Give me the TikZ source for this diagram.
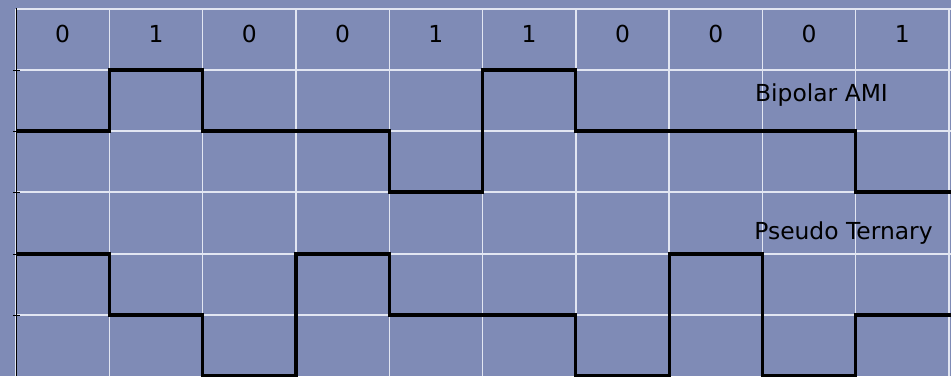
\documentclass[tikz,border=0pt]{standalone}
\usepackage{fontspec}
\setmainfont{DejaVu Sans}
\usepackage{tikz}
\definecolor{plotbg}{HTML}{7F8BB6}
\definecolor{gridwhite}{HTML}{E2E6F2}
\tikzset{
  gridln/.style={gridwhite,line width=1.4pt},
  axisln/.style={black,line width=0.8pt},
  signal/.style={black,line width=3.2pt,line join=miter},
  bitlabel/.style={anchor=base,inner sep=0pt,font=\fontsize{23.4}{28}\selectfont},
  codename/.style={anchor=base,inner sep=0pt,font=\fontsize{23.4}{28}\selectfont},
}

\begin{document}
\begin{tikzpicture}[x=1pt,y=-1pt]
    \fill[plotbg] (0,0) rectangle (951,376);
    \useasboundingbox (0,0) rectangle (951,376);
    % grid
    \foreach \i in {0,...,10} {\draw[gridln] ({16+93.3*\i},9) -- ({16+93.3*\i},376);}
    \foreach \y in {9,70,131,192,254,315} {\draw[gridln] (16,\y) -- (951,\y);}
    % axis with ticks
    \draw[axisln] (16,8) -- (16,376);
    \foreach \y in {70,131,192,254,315} {\draw[axisln] (13,\y) -- (20,\y);}
    % data bits
    \foreach \b [count=\i from 0] in {0,1,0,0,1,1,0,0,0,1}
      {\node[bitlabel] (bit\i) at ({16+93.3*(\i+0.5)},42) {\b};}
    % Bipolar AMI
    \draw[signal] plot coordinates {
      (16,131) (109.3,131) (109.3,70) (202.6,70) (202.6,131) (389.2,131)
      (389.2,192) (482.5,192) (482.5,70) (575.8,70) (575.8,131) (855.7,131)
      (855.7,192) (951,192)};
    % Pseudo Ternary
    \draw[signal] plot coordinates {
      (16,254) (109.3,254) (109.3,315) (202.6,315) (202.6,376) (295.9,376)
      (295.9,254) (389.2,254) (389.2,315) (575.8,315) (575.8,376) (669.1,376)
      (669.1,254) (762.4,254) (762.4,376) (855.7,376) (855.7,315) (951,315)};
    \node[codename] (ami) at (821.5,101) {Bipolar AMI};
    \node[codename] (pseudo) at (843.5,239) {Pseudo Ternary};
  \end{tikzpicture}
\end{document}
